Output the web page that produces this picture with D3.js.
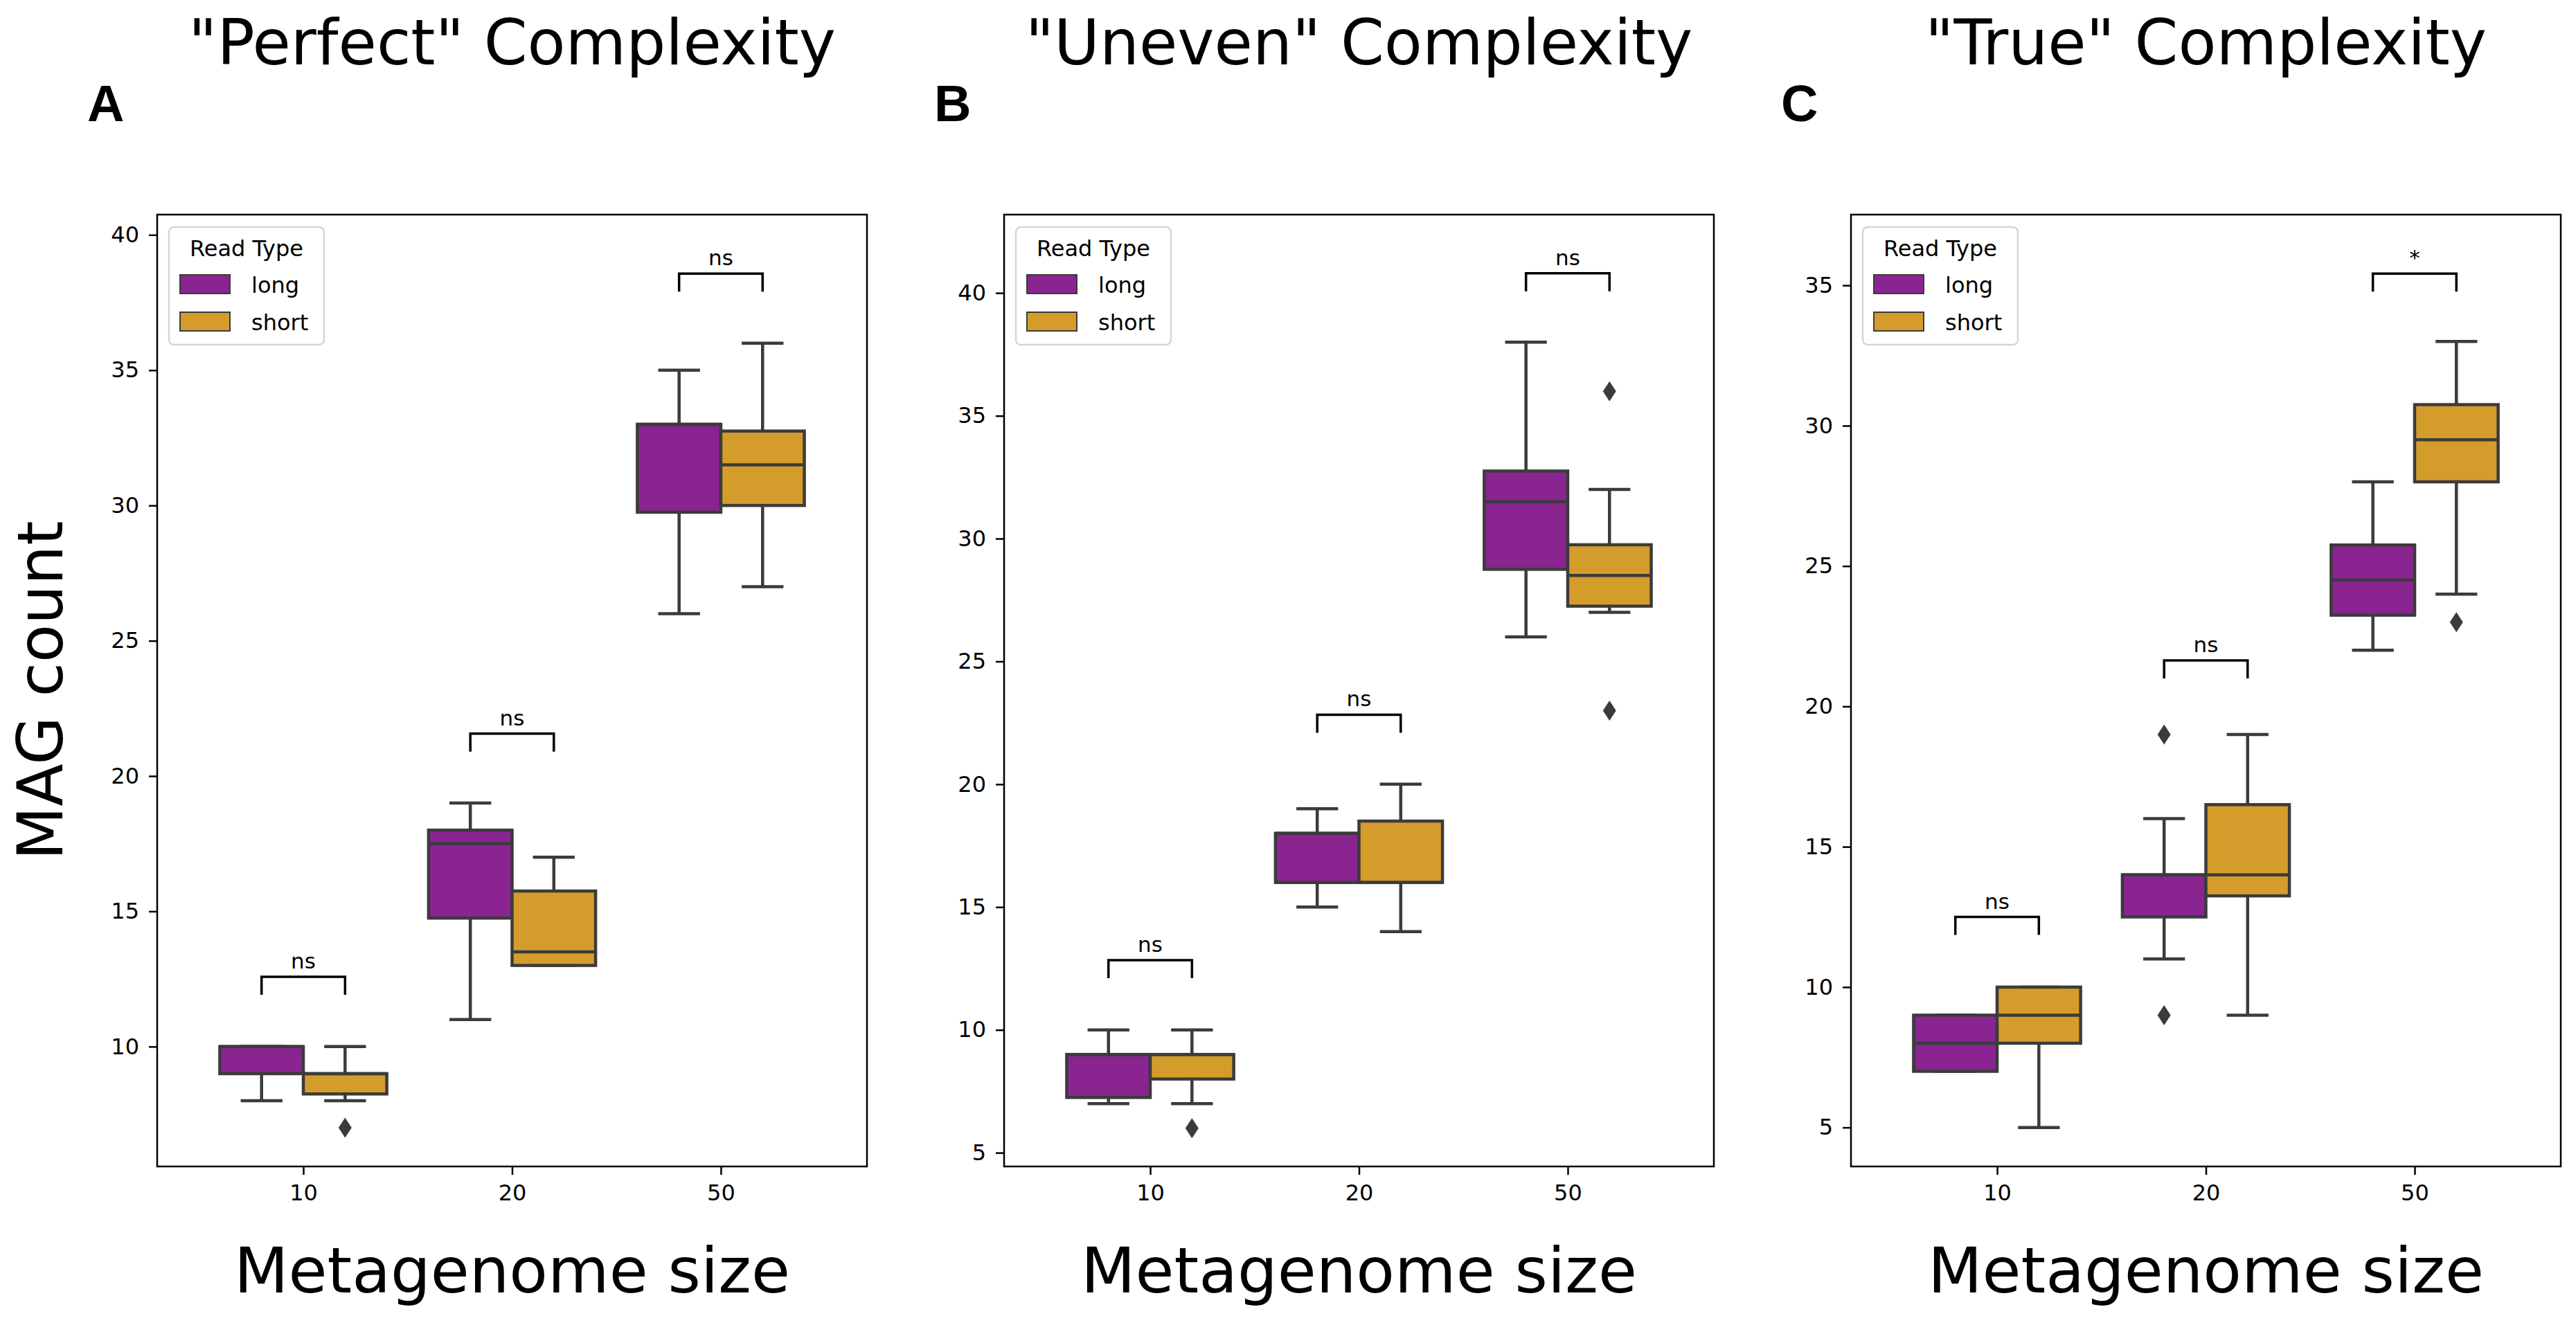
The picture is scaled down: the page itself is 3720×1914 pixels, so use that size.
<!DOCTYPE html>
<html>
<head>
<meta charset="utf-8">
<script src="https://cdnjs.cloudflare.com/ajax/libs/d3/7.8.5/d3.min.js"></script>
<style>
body { margin: 0; background: #fff; }
text { font-family: "DejaVu Sans", sans-serif; }
</style>
</head>
<body>
<div id="fig"></div>
<script>
//data
var categories = ["10", "20", "50"];
var readTypes = ["long", "short"];
var panelTitles = ['"Perfect" Complexity', '"Uneven" Complexity', '"True" Complexity'];
var panelLetters = ["A", "B", "C"];

// [low whisker, q1, median, q3, high whisker] for sizes 10, 20, 50
var perfectLong  = [[8, 9, 10, 10, 10], [11, 14.75, 17.5, 18, 19], [26, 29.75, 33, 33, 35]];
var perfectShort = [[8, 8.25, 9, 9, 10], [13, 13, 13.5, 15.75, 17], [27, 30, 31.5, 32.75, 36]];
var unevenLong   = [[7, 7.25, 9, 9, 10], [15, 16, 18, 18, 19], [26, 28.75, 31.5, 32.75, 38]];
var unevenShort  = [[7, 8, 9, 9, 10], [14, 16, 16, 18.5, 20], [27, 27.25, 28.5, 29.75, 32]];
var trueLong     = [[7, 7, 8, 9, 9], [11, 12.5, 14, 14, 16], [22, 23.25, 24.5, 25.75, 28]];
var trueShort    = [[5, 8, 9, 10, 10], [9, 13.25, 14, 16.5, 19], [24, 28, 29.5, 30.75, 33]];

var perfectLongOut  = [[], [], []];
var perfectShortOut = [[7], [], []];
var unevenLongOut   = [[], [], []];
var unevenShortOut  = [[6], [], [36, 23]];
var trueLongOut     = [[], [19, 9], []];
var trueShortOut    = [[], [], [23]];

var yDomains = [[5.57, 40.75], [4.44, 43.19], [3.61, 37.52]];
var yTicks = [[10, 15, 20, 25, 30, 35, 40], [5, 10, 15, 20, 25, 30, 35, 40], [5, 10, 15, 20, 25, 30, 35]];
var sigLabels = [["ns", "ns", "ns"], ["ns", "ns", "ns"], ["ns", "ns", "*"]];
var bracketLevels = [[12.58, 21.57, 38.57], [12.84, 22.83, 40.8], [12.5, 21.64, 35.42]];

//globals
var width = 3720;
var height = 1914;
var panelLeft = [227, 1450, 2673];
var plotW = 1025;
var plotTop = 310;
var plotH = 1375;
var lineCol = "#3b3b3b";
var color = d3.scaleOrdinal(readTypes, ["#892490", "#d49c2b"]);

var panels = [
    { stats: [perfectLong, perfectShort], out: [perfectLongOut, perfectShortOut] },
    { stats: [unevenLong, unevenShort], out: [unevenLongOut, unevenShortOut] },
    { stats: [trueLong, trueShort], out: [trueLongOut, trueShortOut] }
];

var svg = d3.select("#fig")
    .append("svg")
    .attr("width", width)
    .attr("height", height)
    .style("background", "#fff");

var x = d3.scalePoint()
    .domain(categories)
    .range([0, plotW])
    .padding(0.7);

var step = x.step();
var inner = d3.scaleBand()
    .domain(readTypes)
    .range([-0.4 * step, 0.4 * step]);
var bw = inner.bandwidth();

panels.forEach(function(p, pi) {

    var y = d3.scaleLinear()
        .domain(yDomains[pi])
        .range([plotH, 0]);

    var g = svg.append("g")
        .attr("transform", "translate(" + panelLeft[pi] + "," + plotTop + ")");

    // title + panel letter + axis labels
    svg.append("text")
        .attr("x", panelLeft[pi] + plotW / 2)
        .attr("y", 93)
        .attr("text-anchor", "middle")
        .style("font-size", "90px")
        .text(panelTitles[pi]);

    svg.append("text")
        .attr("x", panelLeft[pi] - 101)
        .attr("y", 175)
        .style("font-family", "'Liberation Sans', Arial, sans-serif")
        .style("font-weight", "bold")
        .style("font-size", "74px")
        .text(panelLetters[pi]);

    svg.append("text")
        .attr("x", panelLeft[pi] + plotW / 2)
        .attr("y", 1867)
        .attr("text-anchor", "middle")
        .style("font-size", "91px")
        .text("Metagenome size");

    if (pi === 0) {
        svg.append("text")
            .attr("transform", "translate(90," + (plotTop + plotH / 2) + ") rotate(-90)")
            .attr("text-anchor", "middle")
            .style("font-size", "90px")
            .text("MAG count");
    }

    // axes
    var yAxis = g.append("g")
        .call(d3.axisLeft(y).tickValues(yTicks[pi]).tickSize(12).tickPadding(14));
    var xAxis = g.append("g")
        .attr("transform", "translate(0," + plotH + ")")
        .call(d3.axisBottom(x).tickSize(12).tickPadding(14));

    [yAxis, xAxis].forEach(function(a) {
        a.select(".domain").remove();
        a.selectAll("line").attr("stroke", "#000").attr("stroke-width", 2.5);
        a.selectAll("text")
            .attr("fill", "#000")
            .style("font-family", "'DejaVu Sans', sans-serif")
            .style("font-size", "32px");
    });

    // boxes
    readTypes.forEach(function(rt, ri) {
        var stats = p.stats[ri];
        var grp = g.append("g").attr("class", "box-" + rt);

        categories.forEach(function(c, ci) {
            var s = stats[ci];
            var cx = x(c) + inner(rt) + bw / 2;

            // whiskers
            grp.append("line")
                .attr("x1", cx).attr("x2", cx)
                .attr("y1", y(s[0])).attr("y2", y(s[1]))
                .attr("stroke", lineCol).attr("stroke-width", 4.5);
            grp.append("line")
                .attr("x1", cx).attr("x2", cx)
                .attr("y1", y(s[3])).attr("y2", y(s[4]))
                .attr("stroke", lineCol).attr("stroke-width", 4.5);
            [s[0], s[4]].forEach(function(v) {
                grp.append("line")
                    .attr("x1", cx - bw / 4).attr("x2", cx + bw / 4)
                    .attr("y1", y(v)).attr("y2", y(v))
                    .attr("stroke", lineCol).attr("stroke-width", 4.5);
            });

            grp.append("rect")
                .attr("x", cx - bw / 2)
                .attr("y", y(s[3]))
                .attr("width", bw)
                .attr("height", Math.max(0, y(s[1]) - y(s[3])))
                .attr("fill", color(rt))
                .attr("stroke", lineCol)
                .attr("stroke-width", 4.5);

            grp.append("line")
                .attr("x1", cx - bw / 2).attr("x2", cx + bw / 2)
                .attr("y1", y(s[2])).attr("y2", y(s[2]))
                .attr("stroke", lineCol).attr("stroke-width", 4.5);

            // outliers
            p.out[ri][ci].forEach(function(v) {
                grp.append("path")
                    .attr("transform", "translate(" + cx + "," + y(v) + ")")
                    .attr("d", "M0,-14.5L9.5,0L0,14.5L-9.5,0Z")
                    .attr("fill", lineCol);
            });
        });
    });

    // significance brackets
    categories.forEach(function(c, ci) {
        var x1 = x(c) + inner("long") + bw / 2;
        var x2 = x(c) + inner("short") + bw / 2;
        var yb = y(bracketLevels[pi][ci]);
        g.append("path")
            .attr("d", "M" + x1 + "," + (yb + 26) + "V" + yb + "H" + x2 + "V" + (yb + 26))
            .attr("fill", "none")
            .attr("stroke", "#000")
            .attr("stroke-width", 3.5);
        g.append("text")
            .attr("x", (x1 + x2) / 2)
            .attr("y", yb - 12)
            .attr("text-anchor", "middle")
            .style("font-size", "31px")
            .text(sigLabels[pi][ci]);
    });

    // frame
    g.append("rect")
        .attr("width", plotW)
        .attr("height", plotH)
        .attr("fill", "none")
        .attr("stroke", "#000")
        .attr("stroke-width", 2.5);

    // legend
    var lg = g.append("g").attr("transform", "translate(17,18)");
    lg.append("rect")
        .attr("width", 224)
        .attr("height", 170)
        .attr("rx", 7)
        .attr("fill", "#fff")
        .attr("fill-opacity", 0.8)
        .attr("stroke", "#d5d5d5")
        .attr("stroke-width", 2.5);
    lg.append("text")
        .attr("x", 112)
        .attr("y", 42)
        .attr("text-anchor", "middle")
        .style("font-size", "32px")
        .text("Read Type");
    readTypes.forEach(function(rt, ri) {
        lg.append("rect")
            .attr("x", 16)
            .attr("y", 69 + ri * 54)
            .attr("width", 72)
            .attr("height", 27)
            .attr("fill", color(rt))
            .attr("stroke", lineCol)
            .attr("stroke-width", 2);
        lg.append("text")
            .attr("x", 119)
            .attr("y", 95 + ri * 54)
            .style("font-size", "32px")
            .text(rt);
    });
});
</script>
</body>
</html>
